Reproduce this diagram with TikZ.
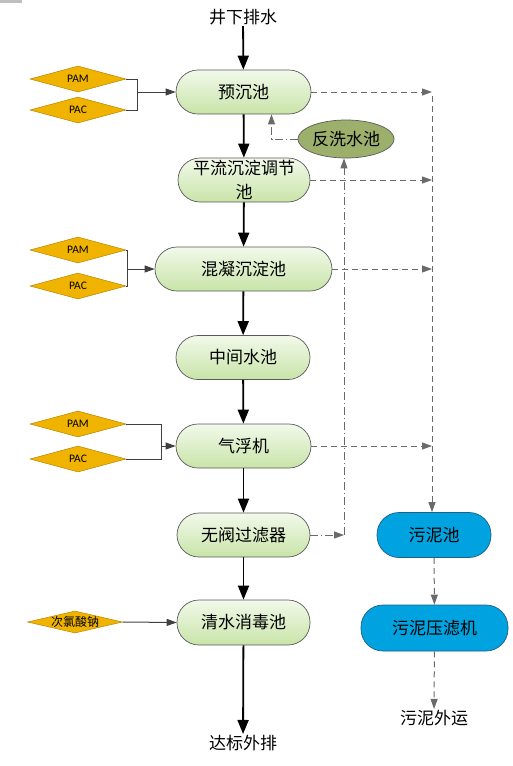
\documentclass[tikz,border=0pt]{standalone}
\usepackage{fontspec}
\setmainfont{Carlito}
\newfontfamily\cjk{Noto Sans CJK SC}
\usetikzlibrary{arrows.meta,shapes.geometric,calc}
\definecolor{gtop}{HTML}{F2F9EA}
\definecolor{gbot}{HTML}{C8E4A8}
\definecolor{bfill}{HTML}{00A3DF}
\definecolor{bdraw}{HTML}{1E5F86}
\definecolor{olive}{HTML}{9CB06C}
\definecolor{gold}{HTML}{F0B400}
\definecolor{golddraw}{HTML}{B88400}
\definecolor{lgrey}{HTML}{404040}
\definecolor{dgrey}{HTML}{6A6A6A}
\newcommand{\flatlabel}[2]{\smash{\makebox[0pt]{\raisebox{#1}{#2}}}}
\tikzset{
  proc/.style={draw=black!65, line width=0.7pt, rounded corners=22pt, top color=gtop, bottom color=gbot,
    minimum height=44pt, inner sep=0pt, font=\cjk\fontsize{17}{24}\selectfont, align=center},
  sludge/.style={draw=bdraw, line width=0.7pt, rounded corners=22pt, fill=bfill,
    minimum height=45pt, inner sep=0pt, font=\cjk\fontsize{17}{24}\selectfont},
  washbox/.style={ellipse, draw=black!65, line width=0.7pt, fill=olive, minimum width=84pt, minimum height=38pt,
    inner sep=0pt, font=\cjk\fontsize{17}{24}\selectfont},
  dose/.style={diamond, draw=golddraw, line width=0.5pt, fill=gold, minimum width=96pt, minimum height=26pt,
    inner sep=0pt, font=\fontsize{11.5}{12}\selectfont},
  plain/.style={font=\cjk\fontsize{17}{24}\selectfont, inner sep=1pt},
  mainflow/.style={line width=1.8pt, black, -{Triangle[length=14pt,width=11pt]}},
  feed/.style={line width=1pt, lgrey, -{Triangle[length=10pt,width=7pt]}},
  feedline/.style={line width=1pt, lgrey},
  sludgeflow/.style={line width=1pt, dgrey, dash pattern=on 6pt off 4pt, -{Triangle[length=10pt,width=7pt]}},
  washflow/.style={line width=1pt, dgrey, dash pattern=on 8pt off 3pt on 1pt off 3pt, -{Triangle[length=10pt,width=7pt]}},
}
\begin{document}
\begin{tikzpicture}[x=1pt,y=-1pt]
\path[use as bounding box] (0,0) rectangle (512,766);
\fill[black!25] (0,0) rectangle (22,2.5);

% main process
\node[plain] (src) at (243,17) {井下排水};
\node[proc, minimum width=135pt] (yc) at (243.5,92) {预沉池};
\node[proc, minimum width=132pt] (pl) at (244,180) {平流沉淀调节\\池};
\node[proc, minimum width=177pt] (hn) at (243.5,269) {混凝沉淀池};
\node[proc, minimum width=134pt] (zj) at (243,357.5) {中间水池};
\node[proc, minimum width=135pt] (qf) at (243.5,446) {气浮机};
\node[proc, minimum width=133pt] (wf) at (243.5,535) {无阀过滤器};
\node[proc, minimum width=133pt, minimum height=45pt] (qs) at (243.5,622.5) {清水消毒池};
\node[plain] (out) at (243,743) {达标外排};

% backwash
\node[washbox] (fx) at (346,139) {反洗水池};

% sludge
\node[sludge, minimum width=114pt] (wn) at (434,535) {污泥池};
\node[sludge, minimum width=147pt, minimum height=46pt] (wy) at (434.5,628) {污泥压滤机};
\node[plain] (wout) at (434,718) {污泥外运};

% dosing
\node[dose] (pam1) at (78,79) {\flatlabel{-0.32em}{PAM}};
\node[dose] (pac1) at (78,110) {\flatlabel{-0.32em}{PAC}};
\node[dose] (pam2) at (78,250) {\flatlabel{-0.32em}{PAM}};
\node[dose] (pac2) at (78,286) {\flatlabel{-0.32em}{PAC}};
\node[dose] (pam3) at (78,424) {\flatlabel{-0.32em}{PAM}};
\node[dose] (pac3) at (78,459) {\flatlabel{-0.32em}{PAC}};
\node[dose, minimum width=95pt, minimum height=22pt, font=\cjk\fontsize{12}{14}\selectfont] (naclo) at (75,622) {\flatlabel{-0.36em}{次氯酸钠}};

\coordinate (j1) at (137,92);
\coordinate (j2) at (127,269);
\coordinate (j3) at (161,446);
\coordinate (c3) at (344,535);
\coordinate (s1) at (432,92);
\coordinate (s1b) at (432,96);

% main flow
\draw[mainflow] (src) -- (yc);
\draw[mainflow] (yc) -- (pl);
\draw[mainflow] (pl) -- (hn);
\draw[mainflow] (hn) -- (zj);
\draw[mainflow] (zj) -- (qf);
\draw[mainflow] (qf) -- (wf);
\draw[mainflow] (wf) -- (qs);
\draw[mainflow] (qs) -- (out);

% dosing connectors
\draw[feedline] (pam1.east) -| (j1);
\draw[feedline] (pac1.east) -| (j1);
\draw[feed] (j1) -- (yc.west);
\draw[feedline] (pam2.east) -| (j2);
\draw[feedline] (pac2.east) -| (j2);
\draw[feed] (j2) -- (hn.west);
\draw[feedline] (pam3.east) -| (j3);
\draw[feedline] (pac3.east) -| (j3);
\draw[feed] (j3) -- (qf.west);
\draw[feed] (naclo.east) -- (qs.west);

% backwash
\draw[washflow] (fx.west) -| ([xshift=28pt]yc.south);
\draw[washflow] (wf.east) -- (c3);
\draw[washflow] (c3) -- (c3 |- fx.south);

% sludge lines
\draw[sludgeflow] (yc.east) -- (s1);
\draw[sludgeflow] (s1b) -- (s1b |- wn.north);
\draw[sludgeflow] (pl.east) -- (s1 |- pl.east);
\draw[sludgeflow] (hn.east) -- (s1 |- hn.east);
\draw[sludgeflow] (qf.east) -- (s1 |- qf.east);
\draw[sludgeflow] (wn) -- (wy);
\draw[sludgeflow] (wy) -- (wout);
\end{tikzpicture}
\end{document}
